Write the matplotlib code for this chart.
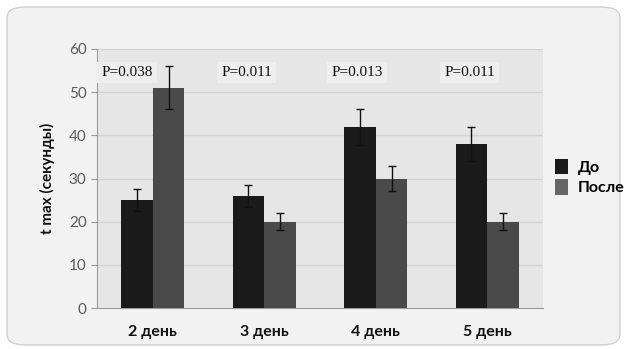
import matplotlib
matplotlib.use("Agg")
import matplotlib.pyplot as plt
from matplotlib.patches import FancyBboxPatch, Patch
import numpy as np

plt.rcParams["font.family"] = ["Lato", "DejaVu Sans"]

categories = ["2 день", "3 день", "4 день", "5 день"]
do_vals = [25, 26, 42, 38]
do_err = [2.5, 2.5, 4.2, 4]
posle_vals = [51, 20, 30, 20]
posle_err = [5, 2, 3, 2]
p_labels = ["P=0.038", "P=0.011", "P=0.013", "P=0.011"]
series_names = ["До", "После"]

W, H = 626, 349
fig = plt.figure(figsize=(W/100, H/100), dpi=100)
fig.patch.set_facecolor("white")
bg = FancyBboxPatch((7/W, 4/H), (W-13)/W, (H-11)/H,
                    boxstyle="round,pad=0,rounding_size=0.03",
                    transform=fig.transFigure, facecolor="#f2f2f2",
                    edgecolor="#cfcfcf", linewidth=1.0, zorder=-5)
fig.patches.append(bg)

ax = fig.add_axes([97/W, 1-308/H, (543-97)/W, (308-49)/H])
ax.set_zorder(1)
ax.set_facecolor("#e6e6e6")
x = np.arange(len(categories))
bw = 0.283
c_do = "#1a1a1a"
c_po = "#4a4a4a"
ax.bar(x - bw/2, do_vals, bw, color=c_do, zorder=3)
ax.bar(x + bw/2, posle_vals, bw, color=c_po, zorder=3)
ax.errorbar(x - bw/2, do_vals, yerr=do_err, fmt="none", ecolor="#111111",
            elinewidth=1, capsize=3, capthick=1, zorder=4)
ax.errorbar(x + bw/2, posle_vals, yerr=posle_err, fmt="none", ecolor="#111111",
            elinewidth=1, capsize=3, capthick=1, zorder=4)

ax.set_xlim(-0.5, 3.5)
ax.set_ylim(0, 60)
ax.set_yticks(range(0, 61, 10))
ax.yaxis.grid(True, color="#d2d2d2", linewidth=1, zorder=1)
ax.set_axisbelow(True)
for s in ["top", "right"]:
    ax.spines[s].set_visible(False)
ax.spines["left"].set_color("#9a9a9a")
ax.spines["bottom"].set_color("#9a9a9a")
ax.tick_params(axis="y", colors="#9a9a9a", labelcolor="#5a5a5a", labelsize=11,
               length=4, direction="out")
ax.tick_params(axis="x", length=0, pad=12, labelsize=11.5)
ax.set_xticks(x)
ax.set_xticklabels(categories, fontweight="bold", color="#111111")
ax.set_ylabel("t max (секунды)", fontweight="bold", fontsize=11, color="#111111",
              labelpad=10)

offsets = [-0.23, -0.16, -0.17, -0.16]
for i, lab in enumerate(p_labels):
    ax.text(x[i] + offsets[i], 54.5, lab, ha="center", va="center",
            family="Liberation Serif", fontsize=11, color="#111111",
            bbox=dict(facecolor="#eeeeee", edgecolor="none", pad=3), zorder=5)

handles = [Patch(facecolor=c_do), Patch(facecolor="#666666")]
fig.legend(handles, series_names, loc="center left", bbox_to_anchor=(541/W, 1-177/H),
           frameon=False, prop=dict(weight="bold", size=11.5), handlelength=0.8,
           handleheight=1.1, handletextpad=0.6, labelspacing=0.3)

fig.savefig("out.png", dpi=100, facecolor=fig.get_facecolor())
